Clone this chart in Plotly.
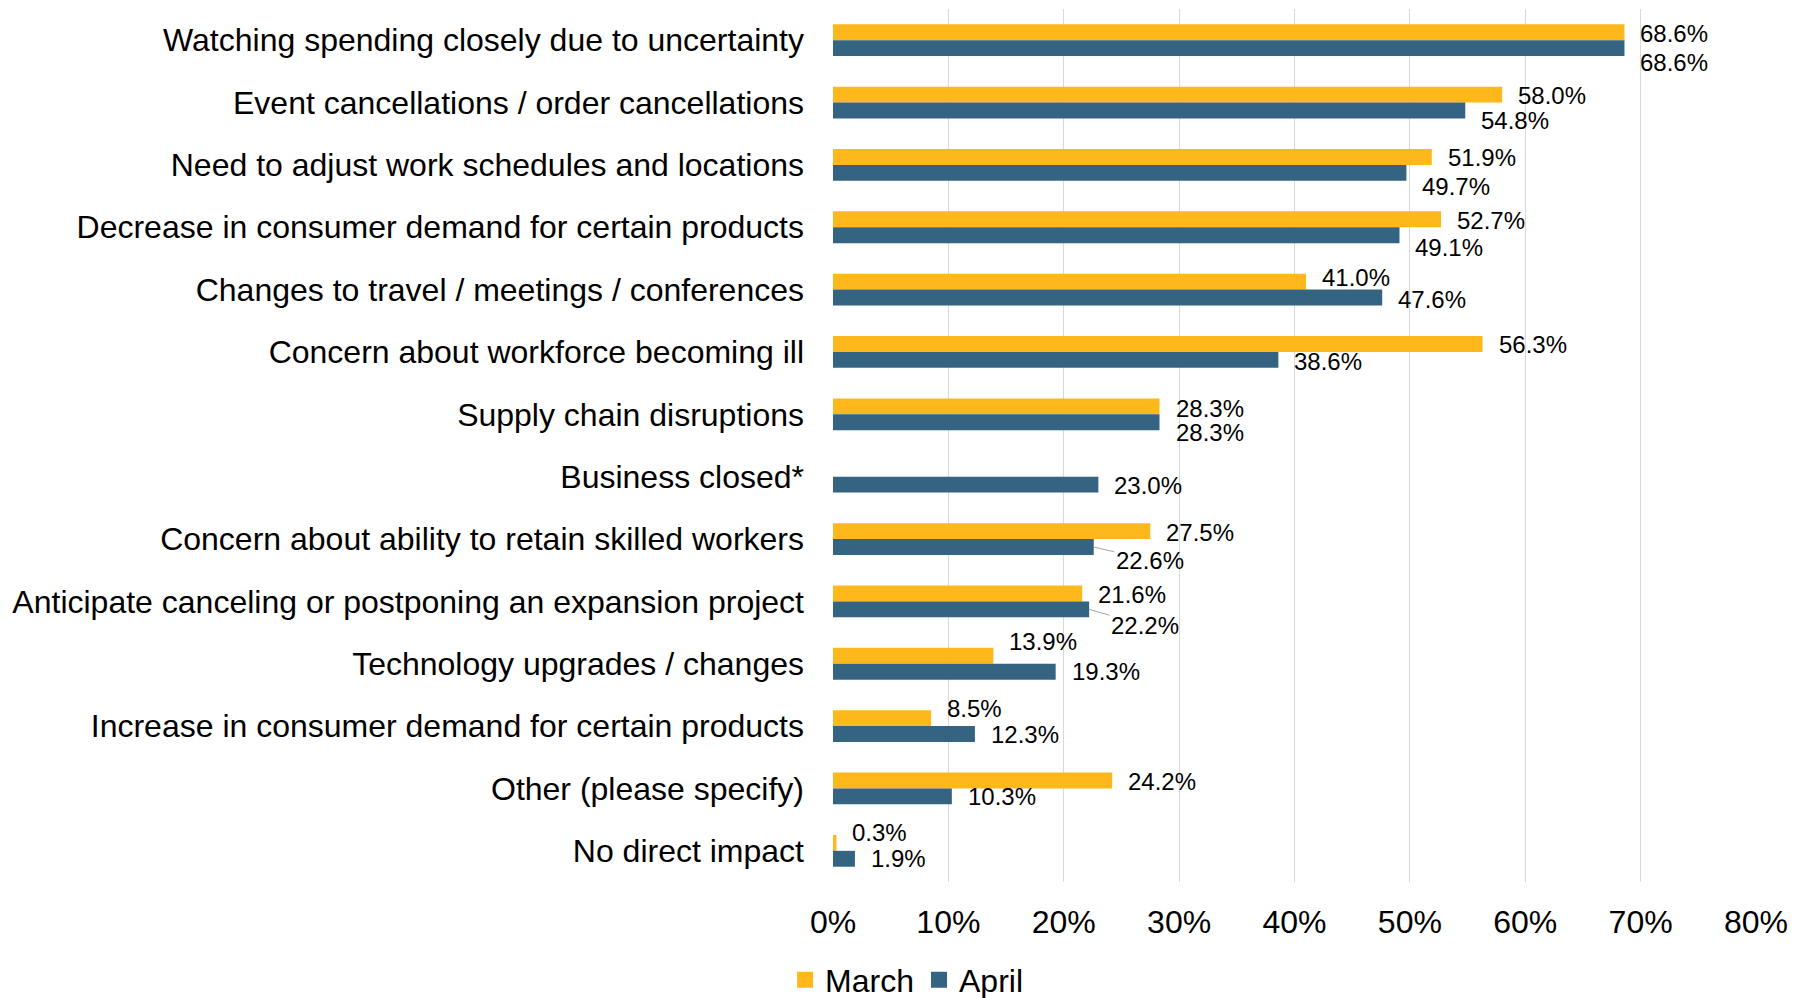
import plotly.graph_objects as go

# data (percent of respondents)
categories = [
    "Watching spending closely due to uncertainty",
    "Event cancellations / order cancellations",
    "Need to adjust work schedules and locations",
    "Decrease in consumer demand for certain products",
    "Changes to travel / meetings / conferences",
    "Concern about workforce becoming ill",
    "Supply chain disruptions",
    "Business closed*",
    "Concern about ability to retain skilled workers",
    "Anticipate canceling or postponing an expansion project",
    "Technology upgrades / changes",
    "Increase in consumer demand for certain products",
    "Other (please specify)",
    "No direct impact",
]
march = [68.6, 58.0, 51.9, 52.7, 41.0, 56.3, 28.3, None, 27.5, 21.6, 13.9, 8.5, 24.2, 0.3]
april = [68.6, 54.8, 49.7, 49.1, 47.6, 38.6, 28.3, 23.0, 22.6, 22.2, 19.3, 12.3, 10.3, 1.9]
x_ticks = [0, 10, 20, 30, 40, 50, 60, 70, 80]

# label placement (pixel shifts, Excel-style manual nudges)
march_yshift = [7, 7, 7, 7, 12, 7, 6, 0, 7, 7, 22, 18, 7, 18]
april_yshift = [-22, -18, -22, -20, -10, -10, -18, -9, -21, -24, -8, -8, -8, -8]
april_leader = [False] * 8 + [True, True] + [False] * 4

YEL = "#FFB81C"
BLU = "#346482"
FONT = "Liberation Sans, Arial, sans-serif"

fig = go.Figure()
fig.add_bar(name="March", y=categories, x=march, orientation="h",
            marker=dict(color=YEL, line=dict(width=0)), showlegend=False)
fig.add_bar(name="April", y=categories, x=april, orientation="h",
            marker=dict(color=BLU, line=dict(width=0)), showlegend=False)

# legend-only entries so the swatches are bigger squares (like Excel)
for name, col in [("March", YEL), ("April", BLU)]:
    fig.add_scatter(x=[None], y=[None], mode="markers", name=name,
                    marker=dict(symbol="square", size=18, color=col))

for cat, v, ys in zip(categories, march, march_yshift):
    if v is None:
        continue
    fig.add_annotation(x=v, y=cat, text=f"{v:.1f}%", showarrow=False,
                       xanchor="left", yanchor="middle", xshift=14, yshift=ys,
                       font=dict(size=24, color="#000000"))

for cat, v, ys, lead in zip(categories, april, april_yshift, april_leader):
    if lead:
        fig.add_annotation(x=v, y=cat, text=f"{v:.1f}%", showarrow=True,
                           arrowhead=0, arrowwidth=1, arrowcolor="#A6A6A6",
                           standoff=0, ax=56, ay=-ys - 8, yshift=-8,
                           font=dict(size=24, color="#000000"))
    else:
        fig.add_annotation(x=v, y=cat, text=f"{v:.1f}%", showarrow=False,
                           xanchor="left", yanchor="middle", xshift=14, yshift=ys,
                           font=dict(size=24, color="#000000"))

n = len(categories)
fig.update_layout(
    width=1806, height=998,
    barmode="group", bargap=0.49, bargroupgap=0,
    paper_bgcolor="#FFFFFF", plot_bgcolor="#FFFFFF",
    font=dict(family=FONT, size=32, color="#000000"),
    margin=dict(l=833, r=50, t=9, b=116, autoexpand=False),
    xaxis=dict(range=[0, 80], tickvals=x_ticks,
               ticktext=[f"{t}%" for t in x_ticks],
               showgrid=True, gridcolor="#D9D9D9", gridwidth=1.3,
               zeroline=False, showline=False, ticks="",
               ticklabelstandoff=18, tickfont=dict(size=32)),
    yaxis=dict(type="category", categoryorder="array", categoryarray=categories,
               range=[n - 0.5, -0.5], autorange=False, showgrid=False,
               showline=False, ticks="", ticklabelstandoff=28,
               tickfont=dict(size=32)),
    legend=dict(orientation="h", xref="container", yref="container",
                x=0.502, xanchor="center", y=0.018, yanchor="middle",
                font=dict(size=32), itemwidth=30, traceorder="normal"),
    showlegend=True,
)

# drop the default 8px page margin so the figure fills the window exactly
fig.write_html("out.html", config={"displayModeBar": False},
               post_script="document.body.style.margin='0';document.body.style.overflow='hidden';")
